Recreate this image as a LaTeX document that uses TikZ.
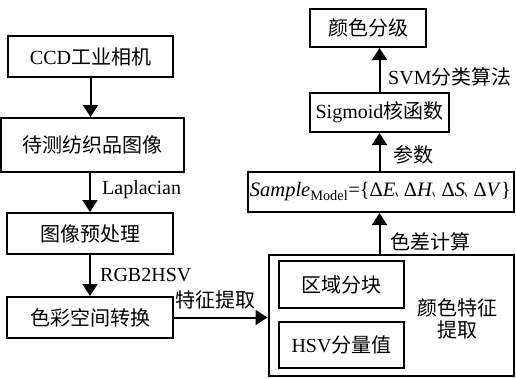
\documentclass[tikz,border=0pt]{standalone}
\usepackage{fontspec}
\usepackage{graphicx}
\setmainfont{Liberation Serif}
\newfontfamily\cjk{Noto Sans CJK SC}
\newcommand{\dun}{\scalebox{0.42}[1]{\cjk 、}}
\usetikzlibrary{arrows.meta}
\begin{document}
\begin{tikzpicture}[x=1pt,y=-1pt, font=\fontsize{20}{22}\selectfont,
 box/.style={draw, line width=2pt, inner sep=0pt},
 arr/.style={line width=2pt, -{Triangle[width=15pt,length=12pt]}},
 lbl/.style={anchor=west, inner sep=0pt}]
\useasboundingbox (0,0) rectangle (516,378);
\node[box, minimum width=165pt, minimum height=41pt] (ccd) at (90.5,56.5) {CCD{\cjk 工业相机}};
\node[box, minimum width=183pt, minimum height=54pt] (img) at (92.5,145) {\cjk 待测纺织品图像};
\node[box, minimum width=166pt, minimum height=41pt] (pre) at (90,233.5) {\cjk 图像预处理};
\node[box, minimum width=166pt, minimum height=41pt] (conv) at (90,317.5) {\cjk 色彩空间转换};
\node[box, minimum width=245pt, minimum height=121pt] (big) at (391,315.5) {};
\node[box, minimum width=125pt, minimum height=47pt] (blk) at (341.5,284.5) {\cjk 区域分块};
\node[box, minimum width=125pt, minimum height=46pt] (hsv) at (341.5,345) {HSV{\cjk 分量值}};
\node[inner sep=0pt, align=center, font=\fontsize{20}{22}\selectfont\cjk] (ext) at (457,319) {颜色特征\\提取};
\node[box, minimum width=266pt, minimum height=40pt] (sample) at (380.5,192) {\fontsize{20.5}{22}\selectfont\textit{Sample}\textsubscript{Model}={\{}Δ\textit{E}\dun Δ\textit{H}\dun Δ\textit{S}\dun Δ\textit{V}{\}}};
\node[box, minimum width=139pt, minimum height=39pt] (sig) at (379.5,112.5) {Sigmoid{\cjk 核函数}};
\node[box, minimum width=116pt, minimum height=38pt] (grade) at (368,28) {\cjk 颜色分级};
\draw[arr] (ccd.south) -- (ccd.south |- img.north);
\draw[arr] (pre.north |- img.south) -- (pre.north);
\draw[arr] (pre.south) -- (conv.north);
\draw[arr] (conv.east) -- (conv.east -| big.west);
\draw[arr] (big.north -| sig.south) -- (sample.south -| sig.south);
\draw[arr] (sample.north -| sig.south) -- (sig.south);
\draw[arr] (sig.north) -- (sig.north |- grade.south);
\node[lbl] (l1) at (102,190) {Laplacian};
\node[lbl] (l2) at (100,275) {RGB2HSV};
\node[lbl] (l3) at (175,300) {\cjk 特征提取};
\node[lbl] (l4) at (390,242) {\cjk 色差计算};
\node[lbl] (l5) at (393,155) {\cjk 参数};
\node[lbl] (l6) at (388,77) {SVM{\cjk 分类算法}};
\end{tikzpicture}
\end{document}
